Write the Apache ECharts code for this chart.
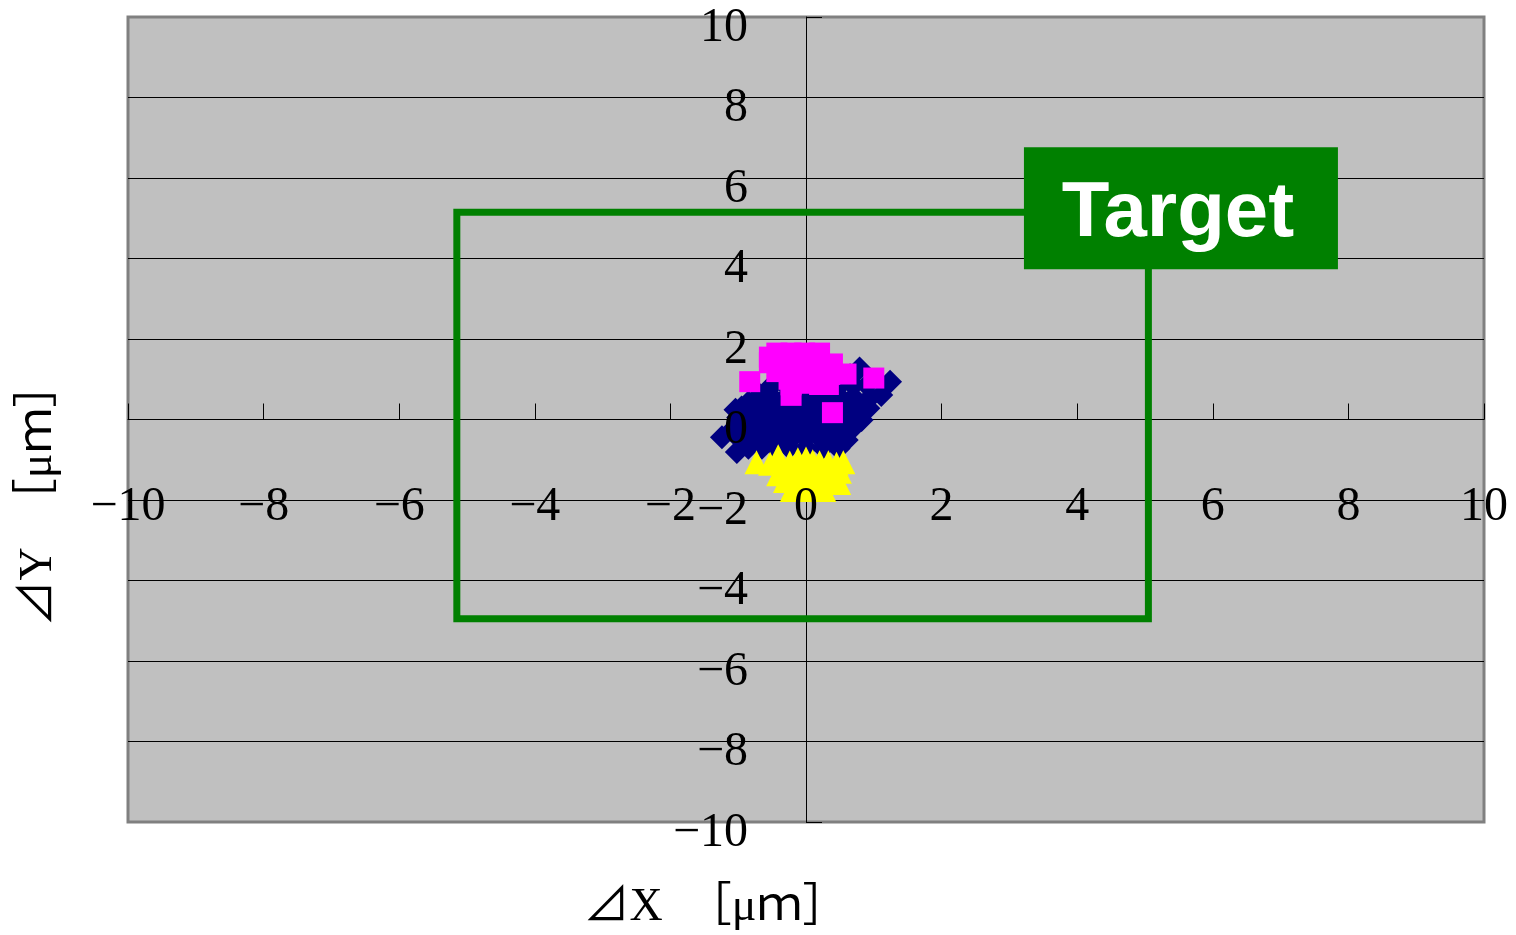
<!DOCTYPE html>
<html>
<head>
<meta charset="utf-8">
<script src="https://cdn.jsdelivr.net/npm/echarts@6/dist/echarts.min.js"></script>
<style>
  html, body { margin: 0; padding: 0; background: #ffffff; }
  #chart { width: 1516px; height: 935px; }
</style>
</head>
<body>
<div id="chart"></div>
<script>
// Axis range and tick step (µm)
const axisMin = -10;
const axisMax = 10;
const axisStep = 2;

// Measured offsets ΔX, ΔY [µm], one list per group
const groupDiamond = [
  [-1.24, -0.44], [-1.02, -0.81], [-1.04, 0.24], [-0.85, 0.42], [-0.68, 0.61],
  [1.24, 0.94], [1.11, 0.61], [0.92, 0.28], [0.82, -0.01], [0.6, -0.51], [0.79, 1.27],
  [-0.4, 1.1], [-0.2, 1.1], [0.0, 1.1], [0.2, 1.1], [0.4, 1.1], [0.65, 1.1],
  [-0.5, 0.85], [-0.3, 0.85], [-0.1, 0.85], [0.1, 0.85], [0.3, 0.85], [0.5, 0.85], [0.7, 0.85], [0.9, 0.85],
  [-0.7, 0.55], [-0.5, 0.55], [-0.3, 0.55], [-0.1, 0.55], [0.1, 0.55], [0.3, 0.55], [0.5, 0.55], [0.7, 0.55], [0.95, 0.55],
  [-0.95, 0.3], [-0.75, 0.3], [-0.55, 0.3], [-0.35, 0.3], [-0.15, 0.3], [0.05, 0.3], [0.25, 0.3], [0.45, 0.3], [0.65, 0.3], [0.85, 0.3],
  [-1.0, 0.05], [-0.8, 0.05], [-0.6, 0.05], [-0.4, 0.05], [-0.2, 0.05], [0.0, 0.05], [0.2, 0.05], [0.4, 0.05], [0.6, 0.05], [0.78, 0.05],
  [-1.05, -0.2], [-0.85, -0.2], [-0.65, -0.2], [-0.45, -0.2], [-0.25, -0.2], [-0.05, -0.2], [0.15, -0.2], [0.35, -0.2], [0.55, -0.2], [0.7, -0.2],
  [-1.0, -0.45], [-0.8, -0.45], [-0.6, -0.45], [-0.4, -0.45], [-0.2, -0.45], [0.0, -0.45], [0.2, -0.45], [0.4, -0.45],
  [-0.85, -0.7], [-0.65, -0.7], [-0.45, -0.7], [-0.25, -0.7], [0.0, -0.7], [0.25, -0.7], [0.48, -0.72]
];

const groupSquare = [
  [-0.43, 1.65], [-0.22, 1.65], [-0.02, 1.65], [0.2, 1.65], [-0.54, 1.55],
  [-0.54, 1.41], [-0.43, 1.19], [-0.22, 0.6], [-0.22, 0.86], [0.2, 0.87],
  [0.33, 0.87], [0.39, 1.38], [0.59, 1.13], [-0.83, 0.94], [1.0, 1.03],
  [0.39, 0.17], [-0.3, 1.4], [-0.1, 1.4], [0.1, 1.4], [0.25, 1.35],
  [-0.1, 1.15], [0.15, 1.1], [0.35, 1.12], [-0.25, 1.0], [0.0, 0.9]
];

const groupTriangle = [
  [-0.73, -1.06], [-0.53, -1.1], [-0.41, -0.91], [-0.24, -1.07], [-0.12, -0.99],
  [0.0, -0.97], [0.1, -1.04], [0.2, -1.06], [0.33, -1.06], [0.45, -1.1], [0.55, -1.06],
  [-0.41, -1.36], [-0.25, -1.3], [-0.1, -1.3], [0.05, -1.3], [0.2, -1.3], [0.35, -1.3], [0.5, -1.3],
  [-0.31, -1.53], [-0.15, -1.5], [0.0, -1.5], [0.15, -1.5], [0.3, -1.5], [0.49, -1.58],
  [-0.21, -1.75], [-0.09, -1.75], [0.03, -1.75], [0.15, -1.75], [0.27, -1.75]
];

// Tolerance window [µm]
const targetX = [-5.15, 5.05];
const targetY = [-4.95, 5.15];

// Anchor of the "Target" tag (data coordinates)
const targetTagAt = [5.53, 5.25];

const targetOutline = [
  [targetX[0], targetY[1]],
  [targetX[1], targetY[1]],
  [targetX[1], targetY[0]],
  [targetX[0], targetY[0]],
  [targetX[0], targetY[1]]
];

const numFont = "'Liberation Serif', 'DejaVu Serif', serif";
const titleFont = "'Liberation Serif', 'Noto Sans CJK JP', serif";
const fmtNum = v => (v < 0 ? '\u2212' + Math.abs(v) : String(v));

const chartW = 1516, chartH = 935;
const plotBox = { left: 128, right: 32, top: 17, bottom: 113 };
const plotW = chartW - plotBox.left - plotBox.right;
const plotH = chartH - plotBox.top - plotBox.bottom;
// Share of the axis length between the minimum and zero
const zeroFrac = (0 - axisMin) / (axisMax - axisMin);

// Lines, ticks and grid lines (beneath the markers)
const lineAxisBase = {
  type: 'value', min: axisMin, max: axisMax, interval: axisStep,
  axisLine: { show: true, onZero: true, lineStyle: { color: '#000000', width: 1 } },
  axisTick: { show: true, inside: true, length: 16, lineStyle: { color: '#000000', width: 1 } },
  axisLabel: { show: false },
  z: 0
};

// Twin axes carrying only the tick labels (above the markers), shifted onto the zero lines
const labelAxisBase = {
  type: 'value', min: axisMin, max: axisMax, interval: axisStep,
  axisLine: { show: false, onZero: false },
  axisTick: { show: false },
  splitLine: { show: false },
  z: 10
};

const chart = echarts.init(document.getElementById('chart'), null, { renderer: 'canvas' });

chart.setOption({
  animation: false,
  backgroundColor: '#ffffff',
  grid: Object.assign({}, plotBox, {
    show: true,
    backgroundColor: '#C0C0C0',
    borderColor: '#808080',
    borderWidth: 3,
    containLabel: false,
    outerBoundsMode: 'none'
  }),
  xAxis: [
    Object.assign({}, lineAxisBase, {
      position: 'bottom',
      splitLine: { show: false }
    }),
    Object.assign({}, labelAxisBase, {
      position: 'bottom',
      offset: -plotH * zeroFrac,
      axisLabel: {
        show: true, margin: 64, fontSize: 48, fontFamily: numFont, color: '#000000',
        showMinLabel: true, showMaxLabel: true, hideOverlap: false,
        formatter: fmtNum
      }
    })
  ],
  yAxis: [
    Object.assign({}, lineAxisBase, {
      position: 'left',
      splitLine: {
        show: true, showMinLine: false, showMaxLine: false,
        lineStyle: { color: '#000000', width: 1 }
      }
    }),
    Object.assign({}, labelAxisBase, {
      position: 'left',
      offset: -plotW * zeroFrac,
      axisLabel: {
        show: true, margin: 58, fontSize: 48, fontFamily: numFont, color: '#000000',
        verticalAlign: 'top', lineHeight: 22,
        showMinLabel: true, showMaxLabel: true, hideOverlap: false,
        formatter: fmtNum
      }
    })
  ],
  series: [
    {
      type: 'line',
      xAxisIndex: 0, yAxisIndex: 0,
      data: targetOutline,
      symbol: 'none',
      silent: true,
      z: 3,
      lineStyle: { color: '#008000', width: 7, join: 'miter', cap: 'square' },
      markPoint: {
        silent: true,
        z: 6,
        data: [{
          coord: targetTagAt,
          symbol: 'rect',
          symbolSize: [314, 122],
          itemStyle: { color: '#008000' },
          label: {
            show: true, position: 'inside', formatter: 'Target', offset: [-3, 6],
            color: '#ffffff', fontSize: 78, fontWeight: 'bold',
            fontFamily: "'Liberation Sans', Arial, sans-serif"
          }
        }]
      }
    },
    {
      type: 'scatter',
      xAxisIndex: 0, yAxisIndex: 0,
      data: groupDiamond,
      symbol: 'diamond',
      symbolSize: 24,
      itemStyle: { color: '#000080', opacity: 1 },
      z: 2
    },
    {
      type: 'scatter',
      xAxisIndex: 0, yAxisIndex: 0,
      data: groupSquare,
      symbol: 'rect',
      symbolSize: 21,
      itemStyle: { color: '#FF00FF', opacity: 1 },
      z: 2
    },
    {
      type: 'scatter',
      xAxisIndex: 0, yAxisIndex: 0,
      data: groupTriangle,
      symbol: 'triangle',
      symbolSize: 24,
      itemStyle: { color: '#FFFF00', opacity: 1 },
      z: 2
    }
  ],
  graphic: [
    {
      type: 'text',
      x: 716, y: 908,
      z: 20,
      style: {
        text: '⊿X　［μｍ］',
        font: "46px " + titleFont,
        fill: '#000000',
        align: 'center',
        verticalAlign: 'middle'
      }
    },
    {
      type: 'text',
      x: 39, y: 494,
      rotation: Math.PI / 2,
      z: 20,
      style: {
        text: '⊿Y　［μｍ］',
        font: "46px " + titleFont,
        fill: '#000000',
        align: 'center',
        verticalAlign: 'middle'
      }
    }
  ]
});
</script>
</body>
</html>
